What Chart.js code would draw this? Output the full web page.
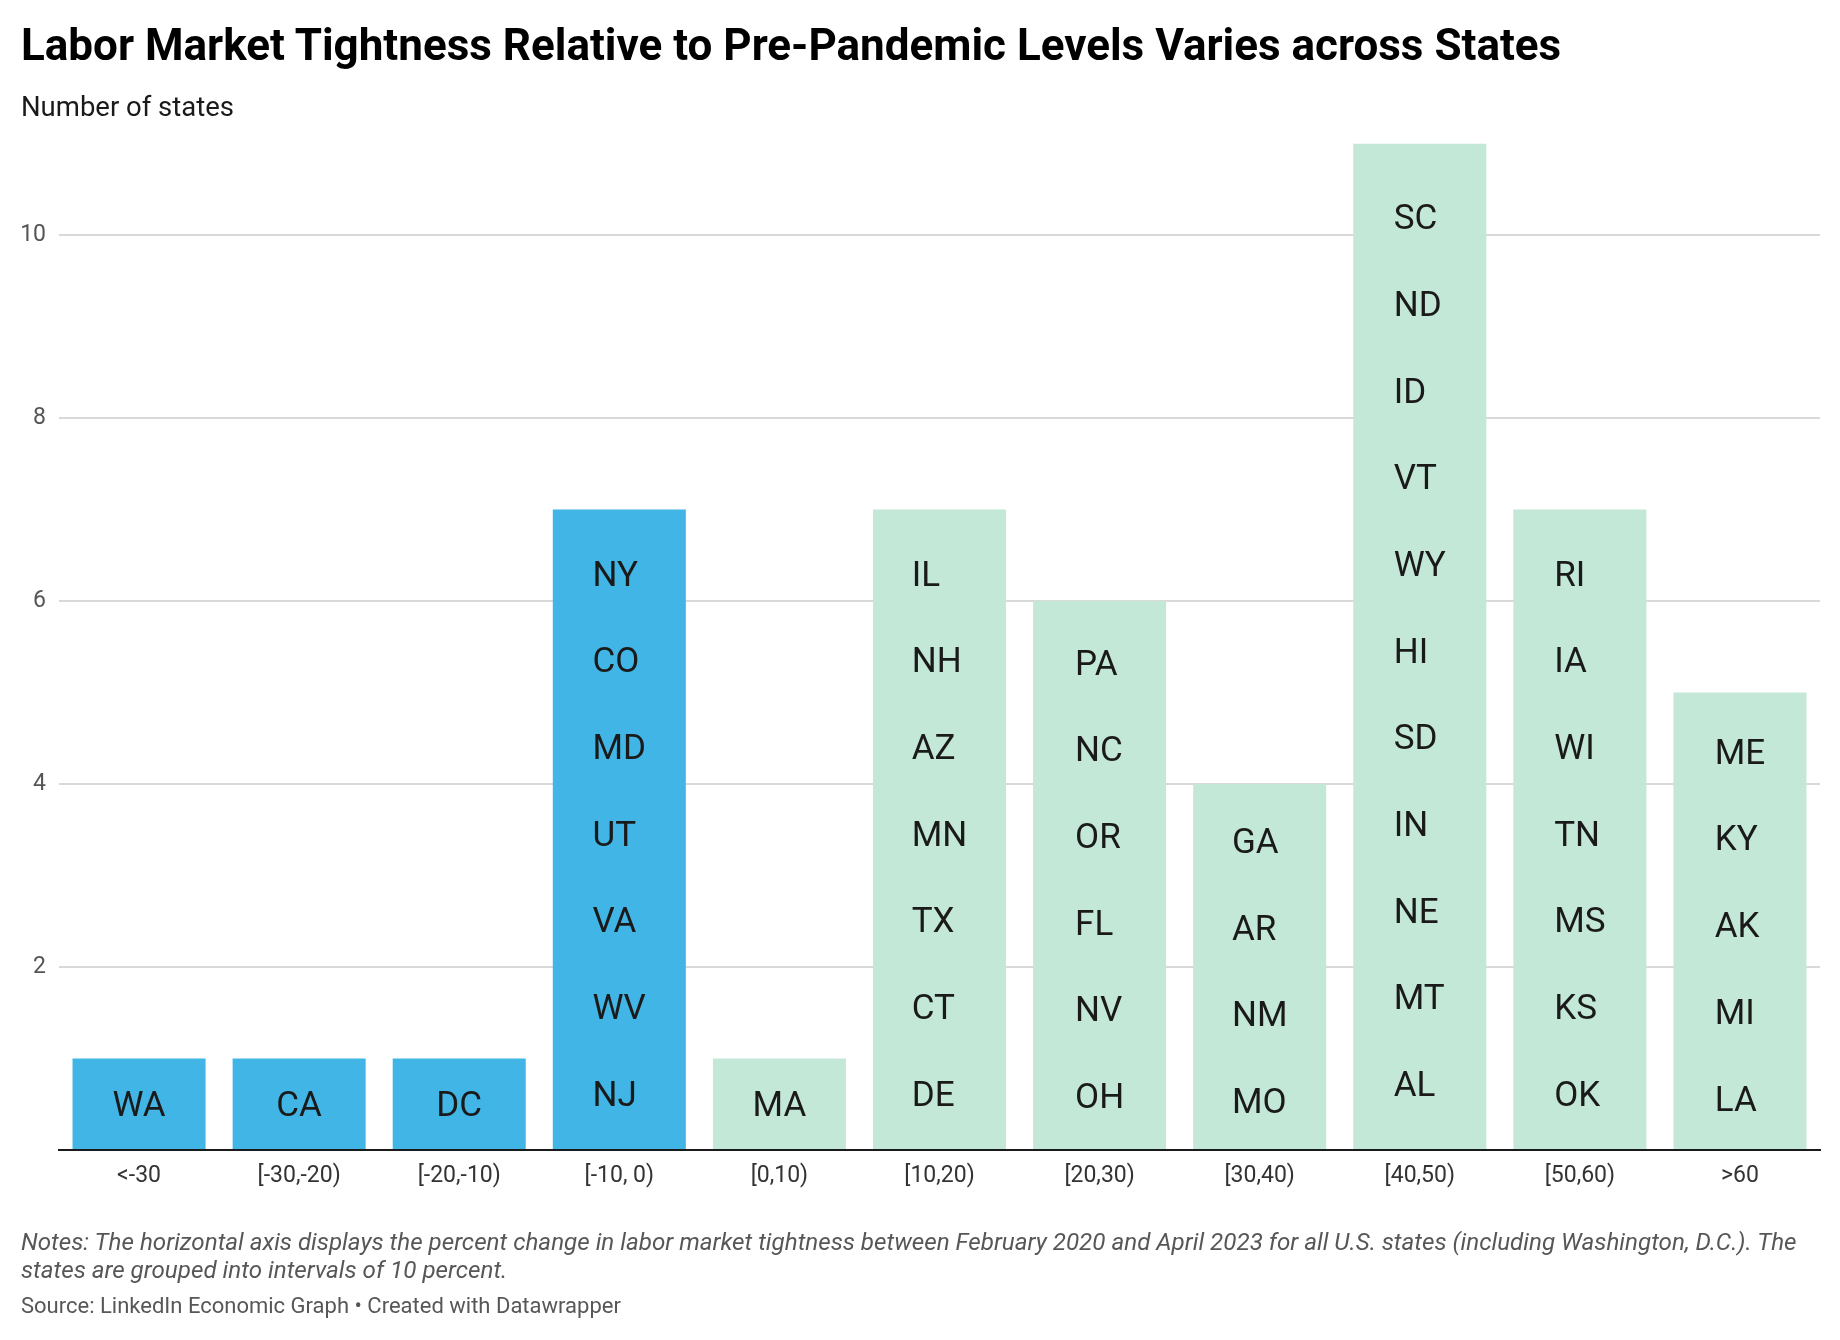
<!DOCTYPE html>
<html>
<head>
<meta charset="utf-8">
<script src="https://cdn.jsdelivr.net/npm/chart.js@4/dist/chart.umd.min.js"></script>
<style>
  html, body { margin: 0; padding: 0; background: #fff; }
  body { width: 1840px; height: 1340px; position: relative; overflow: hidden; font-family: Roboto, "Noto Sans", sans-serif; }
  .t { position: absolute; left: 21px; line-height: 1; white-space: nowrap; }
  #title { font-weight: 700; font-size: 44px; color: #000; top: 23px; }
  #subtitle { font-size: 27.5px; color: #1a1a1a; top: 92.9px; }
  #notes1 { font-size: 24.2px; font-style: italic; color: #575757; top: 1229.6px; }
  #notes2 { font-size: 24.2px; font-style: italic; color: #575757; top: 1257.6px; }
  #source { font-size: 22px; color: #575757; top: 1294.5px; }
  #wrap { position: absolute; left: 0; top: 0; width: 1840px; height: 1340px; }
</style>
</head>
<body>
<div id="wrap"><canvas id="c" width="1840" height="1340"></canvas></div>
<div class="t" id="title">Labor Market Tightness Relative to Pre-Pandemic Levels Varies across States</div>
<div class="t" id="subtitle">Number of states</div>
<div class="t" id="notes1">Notes: The horizontal axis displays the percent change in labor market tightness between February 2020 and April 2023 for all U.S. states (including Washington, D.C.). The</div>
<div class="t" id="notes2">states are grouped into intervals of 10 percent.</div>
<div class="t" id="source">Source: LinkedIn Economic Graph • Created with Datawrapper</div>
<script>
// ---- data ----
const categories = ['<-30', '[-30,-20)', '[-20,-10)', '[-10, 0)', '[0,10)', '[10,20)', '[20,30)', '[30,40)', '[40,50)', '[50,60)', '>60'];
const stateCounts = [1, 1, 1, 7, 1, 7, 6, 4, 11, 7, 5];
const statesByBin = [
  ['WA'],
  ['CA'],
  ['DC'],
  ['NY', 'CO', 'MD', 'UT', 'VA', 'WV', 'NJ'],
  ['MA'],
  ['IL', 'NH', 'AZ', 'MN', 'TX', 'CT', 'DE'],
  ['PA', 'NC', 'OR', 'FL', 'NV', 'OH'],
  ['GA', 'AR', 'NM', 'MO'],
  ['SC', 'ND', 'ID', 'VT', 'WY', 'HI', 'SD', 'IN', 'NE', 'MT', 'AL'],
  ['RI', 'IA', 'WI', 'TN', 'MS', 'KS', 'OK'],
  ['ME', 'KY', 'AK', 'MI', 'LA']
];
const yTicks = [2, 4, 6, 8, 10];

// ---- style ----
const BLUE = '#41b6e6';
const GREEN = '#c4e8d7';
const barColors = categories.map(c => (c.startsWith('<') || c.startsWith('[-')) ? BLUE : GREEN);
const LABEL_FONT_SIZE = 35;
const LABEL_LINE = 86.7;
const LABEL_SHIFT = 4;

const stateLabels = {
  id: 'stateLabels',
  afterDatasetsDraw(chart) {
    const ctx = chart.ctx;
    const meta = chart.getDatasetMeta(0);
    ctx.save();
    ctx.font = LABEL_FONT_SIZE + 'px Roboto';
    ctx.fillStyle = '#1a1a1a';
    ctx.textAlign = 'left';
    ctx.textBaseline = 'alphabetic';
    meta.data.forEach((bar, i) => {
      const names = statesByBin[i];
      const n = names.length;
      const maxW = Math.max(...names.map(s => ctx.measureText(s).width));
      const left = bar.x - maxW / 2;
      const mid = (bar.y + bar.base) / 2 + (n > 1 ? LABEL_SHIFT : 0);
      names.forEach((s, j) => {
        const cy = mid + (j - (n - 1) / 2) * LABEL_LINE;
        ctx.fillText(s, left, cy + 0.355 * LABEL_FONT_SIZE);
      });
    });
    ctx.restore();
  }
};

new Chart(document.getElementById('c'), {
  type: 'bar',
  data: {
    labels: categories,
    datasets: [{
      data: stateCounts,
      backgroundColor: barColors,
      borderWidth: 0,
      categoryPercentage: 1,
      barPercentage: 0.831
    }]
  },
  options: {
    responsive: false,
    devicePixelRatio: 1,
    animation: false,
    layout: { padding: { left: 0, right: 20, top: 143.5, bottom: 140 } },
    plugins: { legend: { display: false }, tooltip: { enabled: false }, title: { display: false } },
    scales: {
      x: {
        grid: { display: false, drawTicks: false },
        border: { display: true, color: '#1a1a1a', width: 2, z: 1 },
        ticks: { color: '#333', font: { family: 'Roboto', size: 23 }, padding: 12, maxRotation: 0, autoSkip: false },
        afterFit(s) { s.height = 50; }
      },
      y: {
        min: 0,
        max: 11,
        grid: { color: '#d9d9d9', lineWidth: 2, drawTicks: false },
        border: { display: false },
        ticks: {
          stepSize: 2,
          includeBounds: false,
          color: '#555',
          padding: 13,
          font: { family: 'Roboto', size: 23 },
          callback: v => yTicks.includes(v) ? String(v) : ''
        },
        afterFit(s) { s.width = 59; }
      }
    }
  },
  plugins: [stateLabels]
});
</script>
</body>
</html>
